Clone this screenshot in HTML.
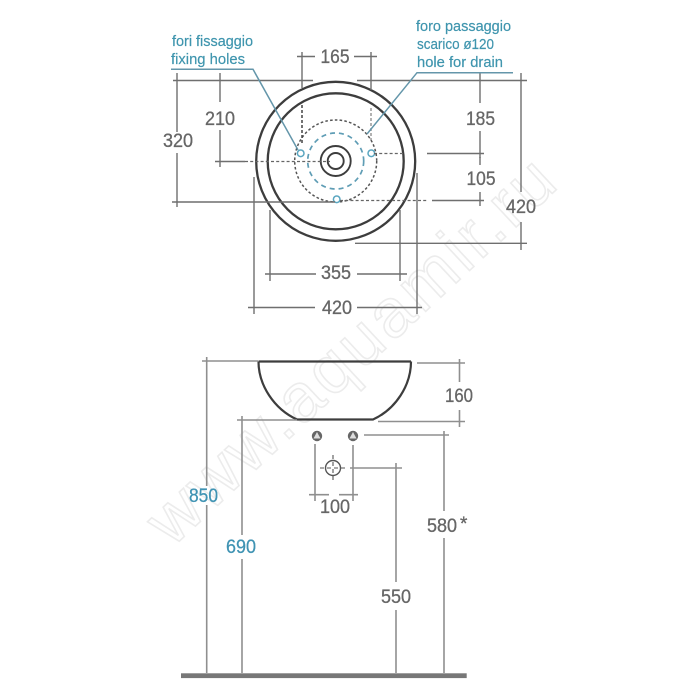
<!DOCTYPE html>
<html>
<head>
<meta charset="utf-8">
<style>
html,body{margin:0;padding:0;background:#fff;width:700px;height:700px;overflow:hidden}
svg{display:block;filter:blur(.35px)}
text{font-family:"Liberation Sans",sans-serif}
.n{font-size:19px;fill:#666;stroke:#666;stroke-width:.3}
.b{font-size:19px;fill:#3f93b3;stroke:#3f93b3;stroke-width:.25}
.t{font-size:15px;fill:#3f95ae;stroke:#3f95ae;stroke-width:.2}
.d{stroke:#6f6f6f;stroke-width:1.4;fill:none}
.l{stroke:#8f8f8f;stroke-width:1.6;fill:none}
.k{stroke:#3d3d3d;fill:none}
</style>
</head>
<body>
<svg width="700" height="700" viewBox="0 0 700 700" xmlns="http://www.w3.org/2000/svg">
<rect width="700" height="700" fill="#fff"/>
<!-- watermark -->
<text transform="translate(172,548) rotate(-43)" font-size="68" fill="#fff" stroke="#ececec" stroke-width="1.6" textLength="530" lengthAdjust="spacing">www.aquamir.ru</text>

<!-- top view: bowl -->
<circle class="k" cx="335.7" cy="161.3" r="79.5" stroke-width="2.3"/>
<circle class="k" cx="335.7" cy="161.3" r="68" stroke-width="2.3"/>
<circle class="k" cx="335.7" cy="161" r="15" stroke-width="1.9"/>
<circle class="k" cx="335.7" cy="161" r="8" stroke-width="1.9"/>
<circle cx="335.7" cy="161" r="41" fill="none" stroke="#555" stroke-width="1.5" stroke-dasharray="2.6 2.2"/>
<circle cx="335.7" cy="161" r="28" fill="none" stroke="#5f9db5" stroke-width="1.7" stroke-dasharray="5 4"/>
<g fill="#fff" stroke="#5aa6c0" stroke-width="1.5">
<circle cx="300.7" cy="153.3" r="3.3"/>
<circle cx="371.3" cy="153.3" r="3.3"/>
<circle cx="336.7" cy="199.3" r="3.3"/>
</g>

<!-- top view: dimensions -->
<g class="d">
<path d="M173 80.5H313M357 80.5H527"/>
<path d="M177 73V132M177 153V207"/>
<path d="M220 73V102M220 130V167"/>
<path d="M480 73V103M480 131V158"/>
<path d="M480 157V165M480 192V206"/>
<path d="M521 73V192M521 222V250"/>
<path d="M215 161.5H245"/>
<path d="M172 202H335"/>
<path d="M427 153.5H484M432 200.5H484"/>
<path d="M355 243.3H527"/>
<path d="M297 56.5H315M354 56.5H377"/>
<path d="M302 52V88M371 52V90"/>
<path d="M265 274H316M357 274H407"/>
<path d="M270 210V281M400 210V281"/>
<path d="M248 307.5H315M357 307.5H422"/>
<path d="M254 177V314M417 173V314"/>
</g>
<g fill="none" stroke="#666" stroke-width="1.2" stroke-dasharray="3 2.2">
<path d="M245 161.5H330"/>
<path d="M340 200.5H428"/>
<path d="M374 153.5H403"/>
</g>
<path d="M302 105V143" fill="none" stroke="#444" stroke-width="1.5" stroke-dasharray="3 2"/>
<path d="M371 108V140" fill="none" stroke="#999" stroke-width="1.5" stroke-dasharray="3 2"/>

<!-- leaders -->
<g fill="none" stroke="#6496aa" stroke-width="1.5">
<path d="M171 69.3H253L298 150"/>
<path d="M513 72.7H417L367 134"/>
</g>

<!-- top labels -->
<text class="t" x="172" y="46" textLength="81" lengthAdjust="spacingAndGlyphs">fori fissaggio</text>
<text class="t" x="171" y="64" textLength="74" lengthAdjust="spacingAndGlyphs">fixing holes</text>
<text class="t" x="416" y="31" textLength="95" lengthAdjust="spacingAndGlyphs">foro passaggio</text>
<text class="t" x="417" y="49" textLength="77" lengthAdjust="spacingAndGlyphs">scarico ø120</text>
<text class="t" x="417" y="67" textLength="86" lengthAdjust="spacingAndGlyphs">hole for drain</text>

<text class="n" x="320.5" y="63" textLength="29" lengthAdjust="spacingAndGlyphs">165</text>
<text class="n" x="205" y="125" textLength="30" lengthAdjust="spacingAndGlyphs">210</text>
<text class="n" x="163" y="147" textLength="30" lengthAdjust="spacingAndGlyphs">320</text>
<text class="n" x="466" y="125" textLength="29" lengthAdjust="spacingAndGlyphs">185</text>
<text class="n" x="466.5" y="185" textLength="29" lengthAdjust="spacingAndGlyphs">105</text>
<text class="n" x="506" y="213" textLength="30" lengthAdjust="spacingAndGlyphs">420</text>
<text class="n" x="321" y="279" textLength="30" lengthAdjust="spacingAndGlyphs">355</text>
<text class="n" x="322" y="314" textLength="30" lengthAdjust="spacingAndGlyphs">420</text>

<!-- side view: bowl -->
<path d="M258.5 361.5H411M258.5 361.5C258.5 385 274 409 297 419.5H373C396 409 411 385 411 361.5" fill="none" stroke="#3d3d3d" stroke-width="2.2"/>

<!-- side view: dimensions -->
<g class="l">
<path d="M202 361H258"/>
<path d="M206.7 357V486M206.7 505V673"/>
<path d="M237 420H297"/>
<path d="M242 416V535M242 559V673"/>
<path d="M417 363H465"/>
<path d="M459.5 359V382M459.5 410V427"/>
<path d="M378 421.5H465"/>
<path d="M364 435H449"/>
<path d="M444 431V511M444 538V673"/>
<path d="M315 444V501M353 445V501"/>
<path d="M309 494.7H329M339 494.7H358"/>
<path d="M350 468H402"/>
<path d="M396 463V582M396 610V673"/>
</g>

<!-- bolts -->
<g>
<circle cx="317" cy="436" r="5.2" fill="#666"/>
<circle cx="353" cy="436" r="5.2" fill="#666"/>
<path d="M317 432L320.5 438.5H313.5Z" fill="#ddd"/>
<path d="M353 432L356.5 438.5H349.5Z" fill="#ddd"/>
</g>

<!-- drain -->
<circle cx="333" cy="468" r="7.5" fill="#fff" stroke="#555" stroke-width="1.4"/>
<path d="M320 468H347M333 455V481" fill="none" stroke="#555" stroke-width="1.1" stroke-dasharray="4 3"/>

<!-- floor -->
<rect x="181" y="673.3" width="285.7" height="4.8" fill="#777"/>

<!-- side labels -->
<text class="n" x="445" y="402" textLength="28" lengthAdjust="spacingAndGlyphs">160</text>
<text class="b" x="189" y="502" textLength="29" lengthAdjust="spacingAndGlyphs">850</text>
<text class="b" x="226" y="553" textLength="30" lengthAdjust="spacingAndGlyphs">690</text>
<text class="n" x="320" y="513" textLength="30" lengthAdjust="spacingAndGlyphs">100</text>
<text class="n" x="427" y="532" textLength="30" lengthAdjust="spacingAndGlyphs">580</text>
<text class="n" x="460" y="530">*</text>
<text class="n" x="381" y="603" textLength="30" lengthAdjust="spacingAndGlyphs">550</text>
</svg>
</body>
</html>
